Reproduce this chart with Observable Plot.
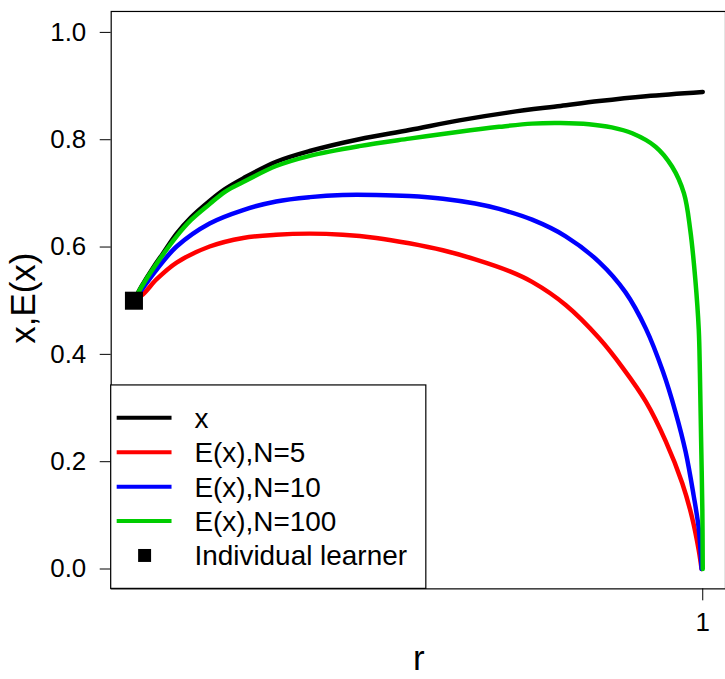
<!DOCTYPE html>
<html>
<head>
<meta charset="utf-8">
<script src="https://cdn.jsdelivr.net/npm/d3@7"></script>
<script src="https://cdn.jsdelivr.net/npm/@observablehq/plot@0.6"></script>
<style>
  html, body { margin: 0; padding: 0; background: white; overflow: hidden; }
  #chart svg { display: block; }
</style>
</head>
<body>
<div id="chart"></div>
<script>
// ---- data ----
const yTicks = [0.0, 0.2, 0.4, 0.6, 0.8, 1.0];
const xTicks = [1];

const rX = [0, 0.0135, 0.034, 0.051, 0.075, 0.10, 0.133, 0.16, 0.192, 0.25, 0.309, 0.396, 0.484, 0.572, 0.66, 0.75, 0.818, 0.9, 1.0];
const valX = [0.5, 0.527, 0.562, 0.588, 0.625, 0.655, 0.686, 0.708, 0.728, 0.759, 0.779, 0.801, 0.818, 0.836, 0.851, 0.863, 0.872, 0.881, 0.889];

const rN5 = [0, 0.016, 0.04, 0.075, 0.133, 0.192, 0.25, 0.309, 0.367, 0.426, 0.484, 0.543, 0.60, 0.66, 0.70, 0.759, 0.818, 0.86, 0.90, 0.935, 0.964, 0.981, 0.993, 0.998];
const valN5 = [0.5, 0.512, 0.54, 0.571, 0.601, 0.617, 0.623, 0.625, 0.623, 0.617, 0.607, 0.594, 0.577, 0.555, 0.535, 0.492, 0.43, 0.374, 0.312, 0.238, 0.16, 0.097, 0.035, 0.0];

const rN10 = [0, 0.0135, 0.04, 0.075, 0.133, 0.192, 0.25, 0.309, 0.367, 0.426, 0.484, 0.543, 0.60, 0.642, 0.70, 0.759, 0.818, 0.864, 0.90, 0.93, 0.952, 0.97, 0.984, 0.993, 0.998];
const valN10 = [0.5, 0.52, 0.558, 0.601, 0.644, 0.669, 0.685, 0.693, 0.697, 0.697, 0.695, 0.69, 0.681, 0.671, 0.651, 0.62, 0.572, 0.516, 0.448, 0.368, 0.293, 0.218, 0.137, 0.075, 0.0];

const rN100 = [0, 0.0135, 0.034, 0.075, 0.10, 0.133, 0.16, 0.192, 0.25, 0.309, 0.396, 0.484, 0.572, 0.642, 0.70, 0.75, 0.80, 0.84, 0.876, 0.917, 0.946, 0.967, 0.978, 0.987, 0.993, 0.995, 0.997, 0.9993, 1.0];
const valN100 = [0.5, 0.526, 0.56, 0.62, 0.65, 0.68, 0.703, 0.721, 0.751, 0.77, 0.788, 0.802, 0.815, 0.824, 0.830, 0.831, 0.829, 0.823, 0.812, 0.787, 0.75, 0.70, 0.632, 0.539, 0.446, 0.366, 0.248, 0.11, 0.0];

const learnerR = [0];
const learnerVal = [0.5];

const seriesNames = ["x", "E(x),N=5", "E(x),N=10", "E(x),N=100"];
const seriesColors = ["black", "#ff0000", "#0000ff", "#00cd00"];
const learnerLabel = "Individual learner";
const xLabel = "r";
const yLabel = "x,E(x)";

// ---- build tables ----
const toRows = (rs, vs) => rs.map((r, i) => ({r, v: vs[i]}));
const seriesData = [toRows(rX, valX), toRows(rN5, valN5), toRows(rN10, valN10), toRows(rN100, valN100)];
const learner = toRows(learnerR, learnerVal);

const FONT = "'Liberation Sans', Arial, Helvetica, sans-serif";

const chart = Plot.plot({
  width: 727,
  height: 679,
  marginLeft: 111,
  marginRight: 0,
  marginTop: 11,
  marginBottom: 89,
  style: {fontFamily: FONT, fontSize: "26px", color: "black", background: "white"},
  x: {domain: [-0.04, 1.04], ticks: xTicks, tickSize: 12, tickPadding: 12, tickFormat: d => String(d), label: null},
  y: {domain: [-0.037, 1.039], ticks: yTicks, tickSize: 11, tickPadding: 14, tickFormat: d3.format(".1f"), label: null},
  marks: [
    Plot.frame({stroke: "black", strokeWidth: 1.2}),
    ...seriesData.map((d, i) => Plot.line(d, {x: "r", y: "v", stroke: seriesColors[i], strokeWidth: 4.5, curve: "catmull-rom"})),
    Plot.dot(learner, {x: "r", y: "v", symbol: "square", r: 10.2, fill: "black", stroke: "none"})
  ]
});

document.getElementById("chart").appendChild(chart);

const svg = d3.select(chart);

// axis titles
svg.append("text")
  .attr("x", 420).attr("y", 672)
  .attr("text-anchor", "middle")
  .style("font-family", FONT).style("font-size", "35px").attr("fill", "black")
  .text(xLabel);

svg.append("text")
  .attr("transform", "translate(35.5,299) rotate(-90)")
  .attr("text-anchor", "middle")
  .style("font-family", FONT).style("font-size", "35px").attr("fill", "black")
  .text(yLabel);

// legend
const lg = svg.append("g").attr("text-anchor", "start");
lg.append("rect")
  .attr("x", 111).attr("y", 386).attr("width", 316).attr("height", 204)
  .attr("fill", "white").attr("stroke", "black").attr("stroke-width", 1.2);

const rowY = [419, 453.5, 488, 522.5, 557];
seriesNames.forEach((name, i) => {
  lg.append("line")
    .attr("x1", 117).attr("x2", 172).attr("y1", rowY[i]).attr("y2", rowY[i])
    .attr("stroke", seriesColors[i]).attr("stroke-width", 4);
  lg.append("text")
    .attr("x", 195).attr("y", rowY[i] + 10)
    .attr("text-anchor", "start")
    .style("font-family", FONT).style("font-size", "28px").attr("fill", "black")
    .text(name);
});
lg.append("rect")
  .attr("x", 138.5).attr("y", rowY[4] - 6.5).attr("width", 13).attr("height", 13)
  .attr("fill", "black");
lg.append("text")
  .attr("x", 195).attr("y", rowY[4] + 10)
  .attr("text-anchor", "start")
  .style("font-family", FONT).style("font-size", "28px").attr("fill", "black")
  .text(learnerLabel);
</script>
</body>
</html>
